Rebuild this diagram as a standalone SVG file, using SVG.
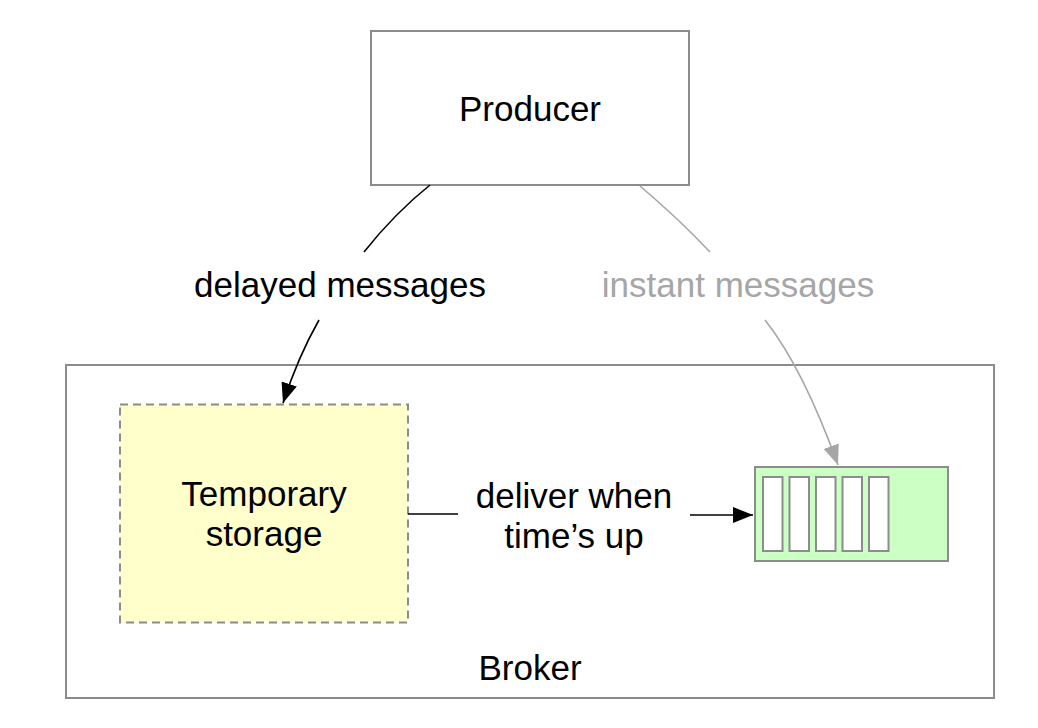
<svg xmlns="http://www.w3.org/2000/svg" width="1038" height="728" viewBox="0 0 1038 728">
<style>
.t{font-family:"Liberation Sans",Arial,sans-serif;font-size:35px;fill:#000;text-anchor:middle}
.g{fill:#a6a6a6}
.box{fill:#fff;stroke:#8c8c8c;stroke-width:2}
.slot{fill:#fff;stroke:#8c8c8c;stroke-width:2}
.c{fill:none;stroke:#000;stroke-width:1.6}
.cg{fill:none;stroke:#a6a6a6;stroke-width:1.6}
</style>
<defs>
<marker id="ab" markerUnits="userSpaceOnUse" markerWidth="20" markerHeight="16" viewBox="0 0 20 16" refX="20" refY="8" orient="auto"><path d="M0,0 L20,8 L0,16 Z" fill="#000"/></marker>
<marker id="ag" markerUnits="userSpaceOnUse" markerWidth="20" markerHeight="16" viewBox="0 0 20 16" refX="20" refY="8" orient="auto"><path d="M0,0 L20,8 L0,16 Z" fill="#a6a6a6"/></marker>
</defs>
<rect width="1038" height="728" fill="#fff"/>
<g id="broker">
<rect class="box" x="66" y="365" width="928" height="333"/>
<text class="t" x="530" y="680">Broker</text>
</g>
<g id="producer">
<rect class="box" x="371" y="31" width="318" height="154"/>
<text class="t" x="530" y="121">Producer</text>
</g>
<g id="storage">
<rect x="120" y="404.5" width="288" height="218" fill="#ffffcc" stroke="#8c8c8c" stroke-width="2" stroke-dasharray="8,5"/>
<text class="t" x="264" y="506">Temporary</text>
<text class="t" x="264" y="546">storage</text>
</g>
<g id="queue">
<rect x="755" y="467" width="193" height="94" fill="#ccffc4" stroke="#8c8c8c" stroke-width="2"/>
<rect class="slot" x="763" y="477" width="19.5" height="74"/>
<rect class="slot" x="789.5" y="477" width="19.5" height="74"/>
<rect class="slot" x="816" y="477" width="19.5" height="74"/>
<rect class="slot" x="842.5" y="477" width="19.5" height="74"/>
<rect class="slot" x="869" y="477" width="19.5" height="74"/>
</g>
<g id="connectors">
<path class="c" d="M430,185 Q395,213 364,252"/>
<path class="c" d="M319,320 Q298,357 283,403" marker-end="url(#ab)"/>
<text class="t" x="340" y="297">delayed messages</text>
<path class="cg" d="M640,186 Q680,220 710,252"/>
<path class="cg" d="M765,320 Q803,368 838,465" marker-end="url(#ag)"/>
<text class="t g" x="738" y="297">instant messages</text>
<path class="c" d="M408,514 L458,514"/>
<path class="c" d="M690,515 L753,515" marker-end="url(#ab)"/>
<text class="t" x="574" y="508">deliver when</text>
<text class="t" x="574" y="548">time’s up</text>
</g>
</svg>
